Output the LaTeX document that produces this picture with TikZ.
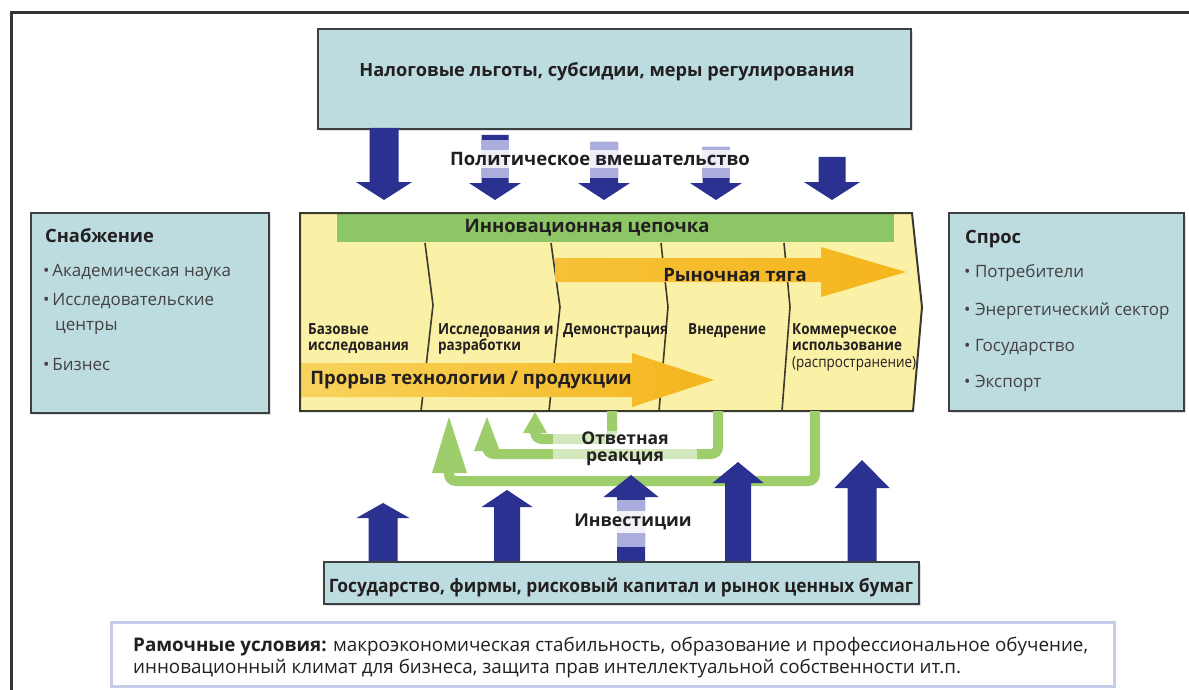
\documentclass[tikz,border=0pt]{standalone}
\usepackage{fontspec}
\setmainfont{Open Sans}
\newfontfamily\condb[FakeStretch=0.94]{Open Sans}
\newfontfamily\condc[FakeStretch=0.88]{Open Sans}
\usetikzlibrary{shadows}
\definecolor{tealfill}{HTML}{BCDCE0}
\definecolor{boxline}{HTML}{3C4043}
\definecolor{yelfill}{HTML}{FAF0A6}
\definecolor{yelline}{HTML}{3B3A2C}
\definecolor{barGreen}{HTML}{8CC665}
\definecolor{fbgreen}{HTML}{9ECD6C}
\definecolor{navy}{HTML}{2B3190}
\definecolor{lav}{HTML}{ABADDC}
\definecolor{orng}{HTML}{F5B51C}
\definecolor{orngL}{HTML}{F8D35C}
\definecolor{frameLav}{HTML}{C6CBE8}
\definecolor{txt}{HTML}{231F20}
\definecolor{framegray}{HTML}{333333}
\newcommand\myblockarrow[7]{% color, cx, yend, ybase, ytip, w, W
  \fill[#1] (#2-#6,#3) -- (#2-#6,#4) -- (#2-#7,#4) -- (#2,#5) -- (#2+#7,#4) -- (#2+#6,#4) -- (#2+#6,#3) -- cycle;}
\tikzset{
  tealbox/.style={draw=boxline, line width=2.2pt, fill=tealfill, anchor=north west,
    drop shadow={opacity=0.25, shadow xshift=1.5pt, shadow yshift=-1.5pt}},
  bigbold/.style={font=\fontsize{18.5}{20}\selectfont\bfseries, text=txt},
  condbold/.style={font=\condb\fontsize{18.5}{20}\selectfont\bfseries, text=txt},
  stagelbl/.style={font=\condc\fontsize{15.3}{16.5}\selectfont\bfseries, text=txt, align=left, anchor=north west, inner sep=0pt},
  sidetitle/.style={font=\fontsize{18.3}{20}\selectfont\bfseries, text=txt, anchor=west, inner sep=0pt},
  sideitem/.style={font=\fontsize{17}{19}\selectfont, text=txt!85, anchor=west, inner sep=0pt, align=left},
  fbarrow/.style={draw=fbgreen, line width=10pt, rounded corners=7pt},
  divider/.style={draw=yelline, line width=1.6pt},
}
\begin{document}
\begin{tikzpicture}[x=1pt,y=-1pt]
\useasboundingbox (0,0) rectangle (1189,690);
\fill[white] (0,0) rectangle (1189,690);
\draw[line width=3pt, framegray] (11.5,690) -- (11.5,13) -- (1189,13);

% ---- top policy box
\node[tealbox, minimum width=593, minimum height=100] (policy) at (317,28) {};
\node[bigbold, font=\fontsize{18.2}{20}\selectfont\bfseries] (policytxt) at (607,72) {Налоговые льготы, субсидии, меры регулирования};

% ---- down arrows
\myblockarrow{navy}{384}{128}{182}{200}{14.5}{28}
\myblockarrow{navy}{495}{135}{183}{200}{13.5}{26}
\myblockarrow{navy}{604}{142}{183}{200}{14}{26}
\myblockarrow{navy}{716}{147}{183}{200}{13.5}{26}
\myblockarrow{navy}{832}{157}{182}{200}{13.5}{28}
\fill[lav] (481.5,140) rectangle (508.5,178);
\fill[lav] (590,142) rectangle (618,178);
\fill[lav] (702.5,147) rectangle (729.5,178);
\node[bigbold, fill=white, fill opacity=0.8, text opacity=1, inner xsep=4pt, inner ysep=2pt] (politxt) at (600,159) {Политическое вмешательство};

% ---- side boxes
\node[tealbox, minimum width=238, minimum height=200] (supply) at (30,212) {};
\node[sidetitle] (suptitle) at (45,236) {Снабжение};
\node[sideitem] (sup1) at (43,272) {\textbullet\,Академическая наука};
\node[sideitem] (sup2) at (43,301) {\textbullet\,Исследовательские};
\node[sideitem] (sup2b) at (55,328) {центры};
\node[sideitem] (sup3) at (43,365) {\textbullet\,Бизнес};

\node[tealbox, minimum width=235, minimum height=198] (demand) at (948,212) {};
\node[sidetitle] (demtitle) at (965,239) {Спрос};
\node[sideitem] (dem1) at (964,273) {\textbullet\ Потребители};
\node[sideitem] (dem2) at (964,311) {\textbullet\ Энергетический сектор};
\node[sideitem] (dem3) at (964,347) {\textbullet\ Государство};
\node[sideitem] (dem4) at (964,383) {\textbullet\ Экспорт};

% ---- main yellow chain
\fill[yelfill] (300,213) -- (912,213) -- (922,307) -- (913,411) -- (300,411) -- cycle;
\fill[barGreen] (337,213) rectangle (894,242);
\node[bigbold] (chaintxt) at (587,228) {Инновационная цепочка};
\draw[divider] (425,243) -- (433,305) -- (421,411);
\draw[divider] (551,243) -- (560,307) -- (549,411);
\draw[divider] (661,243) -- (668,307) -- (659,411);
\draw[divider] (784,243) -- (790,307) -- (782,411);
% market pull arrow
\shade[left color=orng!80!yelfill, right color=orng] (555,258) -- (821,258) -- (821,247) -- (906,272) -- (821,297) -- (821,282) -- (555,282) -- cycle;
\node[bigbold] (pulltxt) at (735,275) {Рыночная тяга};
% technology push arrow
\shade[left color=orngL, right color=orng] (301,363) -- (632,363) -- (632,353) -- (714,380) -- (632,407) -- (632,397) -- (301,397) -- cycle;
\node[bigbold] (pushtxt) at (471,380) {Прорыв технологии / продукции};
\draw[yelline, line width=2pt, line join=miter] (300,213) -- (912,213) -- (922,307) -- (913,411) -- (300,411) -- cycle;
% stage labels
\node[stagelbl] (s1) at (308,323) {Базовые\\исследования};
\node[stagelbl] (s2) at (438,323) {Исследования и\\разработки};
\node[stagelbl] (s3) at (563,323) {Демонстрация};
\node[stagelbl] (s4) at (688,323) {Внедрение};
\node[stagelbl] (s5) at (792,323) {Коммерческое\\использование\\{\mdseries(распространение)}};

% ---- feedback arrows
\draw[fbarrow] (815,411) -- (815,481) -- (449,481) -- (449,470);
\fill[fbgreen] (432,473) -- (449,417) -- (467,473) -- cycle;
\draw[fbarrow] (718,411) -- (718,454) -- (487,454) -- (487,448);
\fill[fbgreen] (474,451) -- (487,417) -- (500,451) -- cycle;
\draw[fbarrow] (612,411) -- (612,439) -- (535,439) -- (535,430);
\fill[fbgreen] (523,433) -- (535,412) -- (547,433) -- cycle;
\fill[white, opacity=0.55] (553,431) rectangle (697,462);
\node[bigbold, align=center, font=\fontsize{17.5}{17.5}\selectfont\bfseries] (fbtxt) at (625,449) {Ответная\\реакция};

% ---- bottom investment box and up arrows
\myblockarrow{navy}{383}{562}{518}{503}{14.5}{26.5}
\myblockarrow{navy}{507}{562}{507}{490}{13}{25.5}
\myblockarrow{navy}{631}{562}{497}{475}{14}{27.5}
\myblockarrow{navy}{738}{562}{483}{462}{13}{25.5}
\myblockarrow{navy}{862}{562}{488}{460}{14.5}{27.5}
\fill[lav] (617,500) rectangle (645,547);
\node[bigbold, fill=white, fill opacity=0.85, text opacity=1, inner xsep=14pt, inner ysep=3pt, font=\fontsize{17.7}{19}\selectfont\bfseries] (invtxt) at (633,522) {Инвестиции};
\node[tealbox, minimum width=595, minimum height=42] (invest) at (323,561) {};
\node[condbold] (investtxt) at (621,587) {Государство, фирмы, рисковый капитал и рынок ценных бумаг};

% ---- framework conditions
\node[draw=frameLav, line width=3pt, anchor=north west, minimum width=1003, minimum height=64] (frame) at (110,621) {};
\node[anchor=north west, inner sep=0pt, align=left, text=txt, font=\fontsize{18.8}{22}\selectfont] (frametxt) at (133,637)
 {{\bfseries Рамочные условия:} макроэкономическая стабильность, образование и профессиональное обучение,\\инновационный климат для бизнеса, защита прав интеллектуальной собственности ит.п.};
\end{tikzpicture}
\end{document}
